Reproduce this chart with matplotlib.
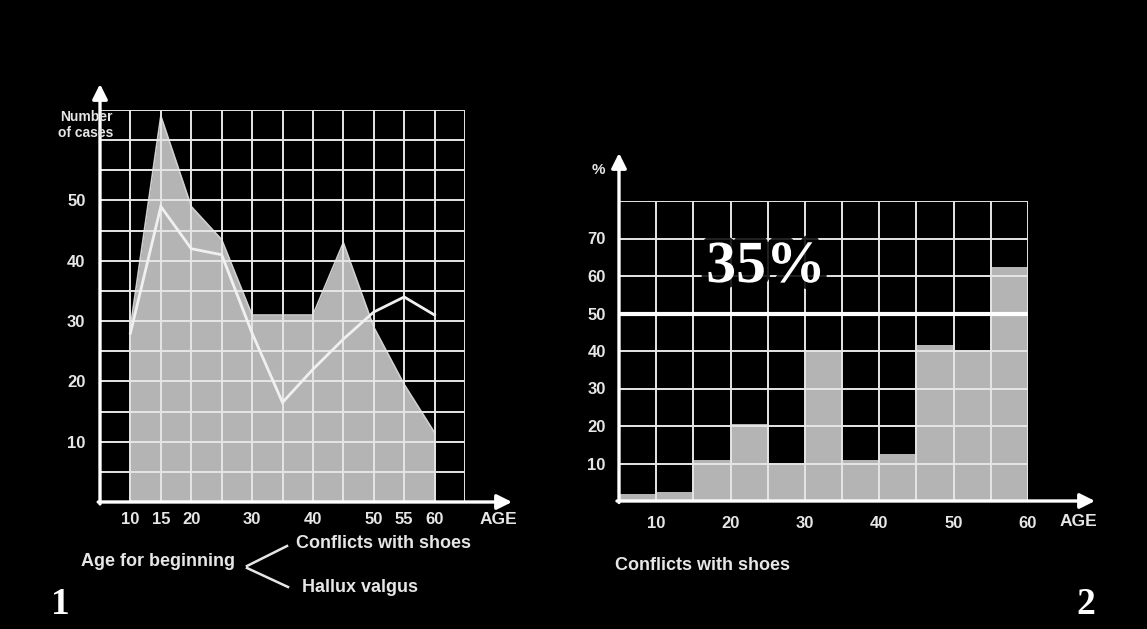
import matplotlib
matplotlib.use("Agg")
import matplotlib.pyplot as plt
import matplotlib.patheffects as pe
import numpy as np

# ---------------- data ----------------
# Chart 1: number of cases by age of onset
ages1 = [10, 15, 20, 25, 30, 35, 40, 45, 50, 55, 60]
conflicts_cases = [29, 64, 49, 43.5, 31, 31, 31, 43, 29, 19.5, 11.5]   # filled area
hallux_cases = [28, 49, 42, 41, 28, 16.5, 22, 27, 31.5, 34, 31]        # white line
left_xlabels = [10, 15, 20, 30, 40, 50, 55, 60]
left_ylabels = [10, 20, 30, 40, 50]

# Chart 2: % conflicts with shoes per 5-year age band
bin_starts = [5, 10, 15, 20, 25, 30, 35, 40, 45, 50, 55]
shoe_pct = [2, 2.5, 11, 20.5, 10, 40, 11, 12.5, 41.5, 40, 62.5]
right_xlabels = [10, 20, 30, 40, 50, 60]
right_ylabels = [10, 20, 30, 40, 50, 60, 70]
ref_level = 50
ref_text = "35%"

# ---------------- style ----------------
W, H = 1147, 629
BG = "black"
FG = "#e6e6e6"
FILL = "#b4b4b4"
GRID = "#e6e6e6"
SANS = "Liberation Sans"
SERIF = "Liberation Serif"
FS = 13      # annotation text
TFS = 12     # tick labels

fig = plt.figure(figsize=(W / 100, H / 100), dpi=100, facecolor=BG)


def px_axes(l, t, r, b):
    return fig.add_axes([l / W, 1 - b / H, (r - l) / W, (b - t) / H])


def ftext(x, y, s, **kw):
    kw.setdefault("color", FG)
    kw.setdefault("fontfamily", SANS)
    kw.setdefault("fontweight", "bold")
    kw.setdefault("fontsize", FS)
    fig.text(x / W, 1 - y / H, s, **kw)


def style_axes(ax, xlim, ylim, xstep, ystep, xlabels, ylabels, xpad, ypad):
    ax.set_facecolor(BG)
    ax.set_xlim(*xlim)
    ax.set_ylim(*ylim)
    xt = np.arange(xlim[0], xlim[1] + 0.1, xstep)
    yt = np.arange(ylim[0], ylim[1] + 0.1, ystep)
    ax.set_xticks(xt)
    ax.set_xticklabels([str(int(v)) if int(v) in xlabels else "" for v in xt])
    ax.set_yticks(yt)
    ax.set_yticklabels([str(int(v)) if int(v) in ylabels else "" for v in yt])
    ax.tick_params(length=0, colors=FG, labelsize=TFS)
    ax.tick_params(axis="x", pad=xpad)
    ax.tick_params(axis="y", pad=ypad)
    for lab in ax.get_xticklabels() + ax.get_yticklabels():
        lab.set_fontfamily(SANS)
        lab.set_fontweight("bold")
    ax.grid(True, color=GRID, lw=1.4)
    ax.set_axisbelow(False)
    for s in ax.spines.values():
        s.set_visible(False)


def arrows(ax, xend, yend):
    kw = dict(arrowstyle="-|>,head_length=0.9,head_width=0.45", color="white",
              lw=2.4, shrinkA=0, shrinkB=0)
    ax.annotate("", xy=(xend, 0), xytext=(-0.005, 0), xycoords="axes fraction",
                arrowprops=kw, annotation_clip=False)
    ax.annotate("", xy=(0, yend), xytext=(0, -0.005), xycoords="axes fraction",
                arrowprops=kw, annotation_clip=False)


# ---------------- chart 1 ----------------
ax1 = px_axes(100, 110, 465, 502)
style_axes(ax1, (5, 65), (0, 65), 5, 5, left_xlabels, left_ylabels, 7.5, 10.5)
ax1.fill_between(ages1, conflicts_cases, 0, color=FILL, lw=0, zorder=1)
ax1.plot(ages1, conflicts_cases, color="#d0d0d0", lw=1.2, zorder=1.5)
ax1.plot(ages1, hallux_cases, color="#f0f0f0", lw=2.0, zorder=3,
         solid_joinstyle="miter")
arrows(ax1, (512 - 100) / 365, 1 + (110 - 84) / 392)

ftext(113, 117, "Number", ha="right", va="center", fontsize=10)
ftext(113, 133, "of cases", ha="right", va="center", fontsize=10)
ftext(498, 520, "AGE", ha="center", va="center", fontsize=12.5)

ftext(158, 562, "Age for beginning", ha="center", va="center")
ftext(384, 543, "Conflicts with shoes", ha="center", va="center")
ftext(360, 588, "Hallux valgus", ha="center", va="center")
fig.add_artist(plt.Line2D([247 / W, 287 / W], [1 - 566 / H, 1 - 546 / H],
                          color=FG, lw=1.8))
fig.add_artist(plt.Line2D([247 / W, 288 / W], [1 - 568 / H, 1 - 587 / H],
                          color=FG, lw=1.8))
ftext(60, 604, "1", ha="center", va="center", fontfamily=SERIF, fontsize=27,
      color="white")

# ---------------- chart 2 ----------------
ax2 = px_axes(619, 201, 1028, 501)
style_axes(ax2, (5, 60), (0, 80), 5, 10, right_xlabels, right_ylabels, 11, 9.5)
ax2.bar(bin_starts, shoe_pct, width=5, align="edge", color=FILL, lw=0, zorder=1)
ax2.axhline(ref_level, color="white", lw=3, zorder=3)
arrows(ax2, (1095 - 619) / 409, 1 + (201 - 153) / 300)

ftext(598, 170, "%", ha="center", va="center", fontsize=11)
ftext(1078, 522, "AGE", ha="center", va="center", fontsize=12.5)
ftext(615, 566, "Conflicts with shoes", ha="left", va="center")
ftext(1086, 604, "2", ha="center", va="center", fontfamily=SERIF, fontsize=27,
      color="white")

t = fig.text(766 / W, 1 - 268 / H, ref_text, ha="center", va="center",
             fontfamily=SERIF, fontweight="bold", fontsize=43, color="white",
             zorder=10)
t.set_path_effects([pe.withStroke(linewidth=10, foreground="black", alpha=0.85)])

fig.savefig("out.png", dpi=100, facecolor=BG)
